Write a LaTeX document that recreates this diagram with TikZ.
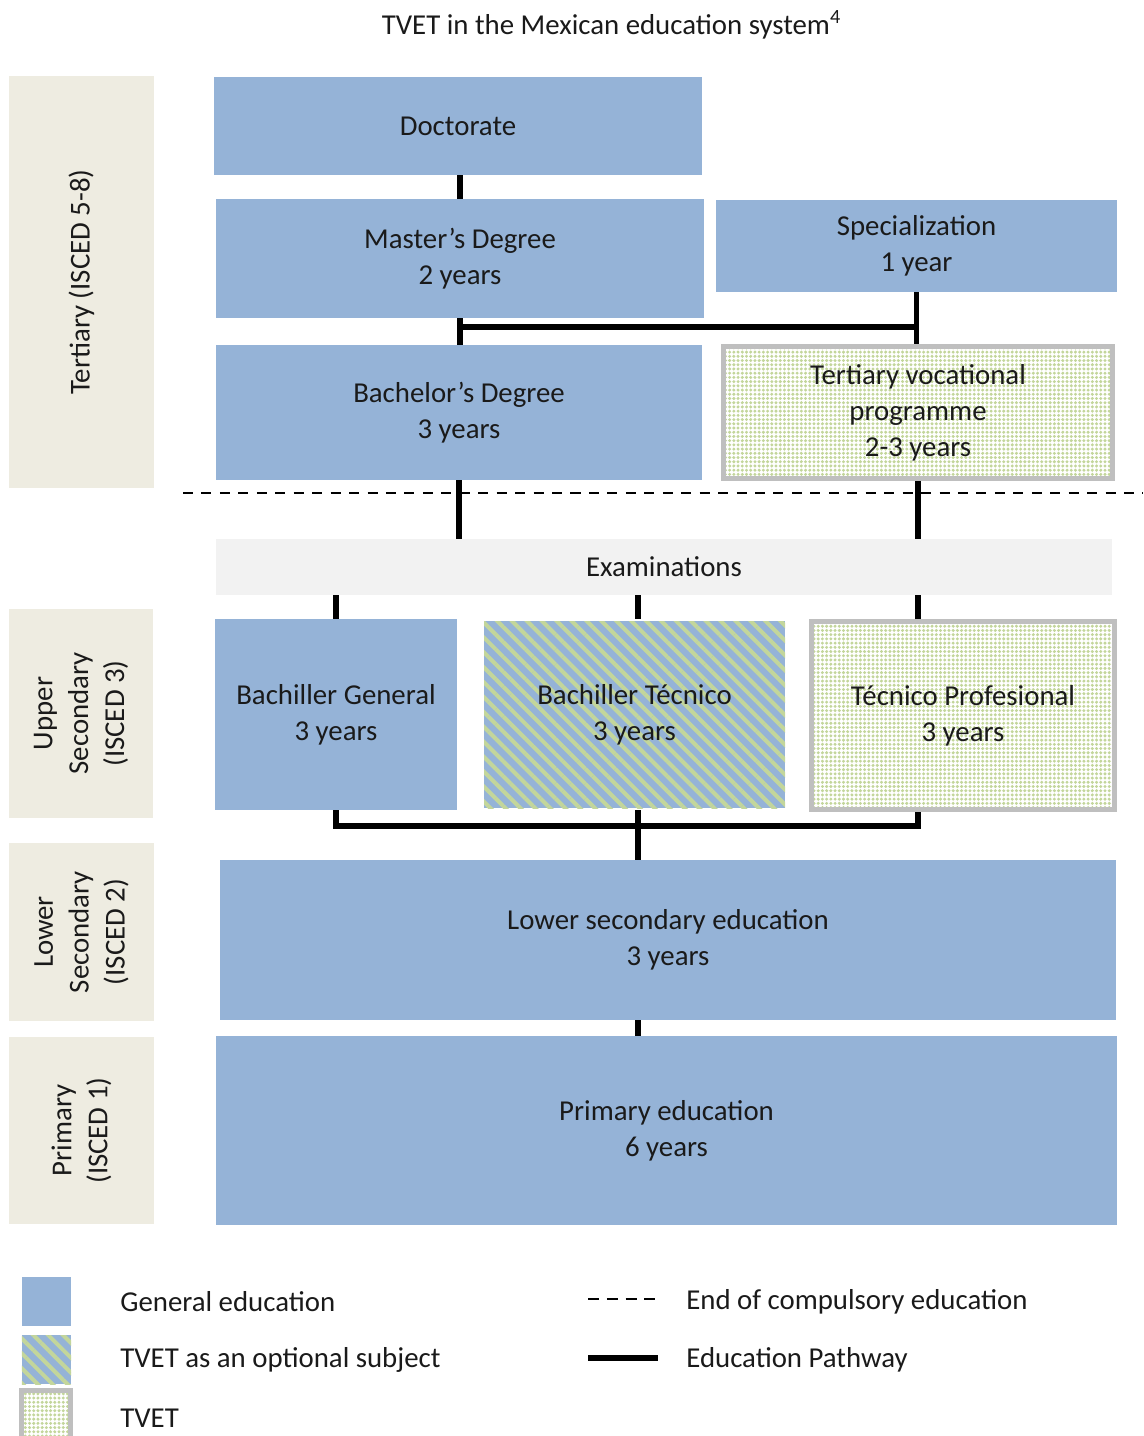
\documentclass[tikz,border=0pt]{standalone}
\usepackage{fontspec}
\setmainfont{Carlito}
\usetikzlibrary{patterns.meta}
\definecolor{genblue}{HTML}{95B3D7}
\definecolor{tvgreen}{HTML}{C3D69B}
\definecolor{levelbeige}{HTML}{EEECE1}
\definecolor{examgray}{HTML}{F2F2F2}
\definecolor{tvetgray}{HTML}{BFBFBF}
\definecolor{txtgray}{HTML}{1A1A1A}

\begin{document}
\begin{tikzpicture}[
    every node/.style={font=\fontsize{16.4}{20.4}\selectfont, text=txtgray, inner sep=0pt, align=center},
    genbox/.style={fill=genblue},
    optbox/.style={preaction={fill=genblue}, pattern={Lines[angle=-45,distance=6pt,line width=2.3pt]}, pattern color=tvgreen},
    tvetbox/.style={draw=tvetgray, line width=2.8pt, preaction={fill=white}, pattern={Dots[distance=2.4pt,radius=0.95pt]}, pattern color=tvgreen},
    levelbox/.style={fill=levelbeige, rotate=90},
    pathway/.style={line width=3pt, black},
    compulsory/.style={line width=1.5pt, black, dash pattern=on 5.7pt off 4.8pt}
  ]
  \useasboundingbox (0,0) rectangle (22.86,-28.72);

  \node (title) at (12.23,-0.50) {TVET in the Mexican education system\textsuperscript{4}};

  % levels
  \node (tert) [levelbox, minimum width=8.24cm, minimum height=2.90cm] at (1.63,-5.64) {Tertiary (ISCED 5-8)};
  \node (usec) [levelbox, minimum width=4.18cm, minimum height=2.88cm] at (1.62,-14.27) {Upper\\Secondary\\(ISCED 3)};
  \node (lsecl) [levelbox, minimum width=3.56cm, minimum height=2.90cm] at (1.63,-18.64) {Lower\\Secondary\\(ISCED 2)};
  \node (priml) [levelbox, minimum width=3.74cm, minimum height=2.90cm] at (1.63,-22.61) {Primary\\(ISCED 1)};

  % tertiary
  \node (doc) [genbox, minimum width=9.76cm, minimum height=1.96cm] at (9.16,-2.52) {Doctorate};
  \node (mast) [genbox, minimum width=9.76cm, minimum height=2.38cm] at (9.20,-5.17) {Master’s Degree\\2 years};
  \node (spec) [genbox, minimum width=8.02cm, minimum height=1.84cm] at (18.33,-4.92) {Specialization\\1 year};
  \node (bach) [genbox, minimum width=9.72cm, minimum height=2.70cm] at (9.18,-8.25) {Bachelor’s Degree\\3 years};
  \node (tvoc) [tvetbox, minimum width=7.78cm, minimum height=2.64cm] at (18.36,-8.25) {Tertiary vocational\\programme\\2-3 years};

  \draw[compulsory] (3.66,-9.86) -- (22.86,-9.86);

  \node (exam) [fill=examgray, minimum width=17.92cm, minimum height=1.12cm] at (13.28,-11.34) {Examinations};

  % upper secondary
  \node (bgen) [genbox, minimum width=4.84cm, minimum height=3.82cm] at (6.72,-14.29) {Bachiller General\\3 years};
  \node (btec) [optbox, minimum width=6.02cm, minimum height=3.74cm] at (12.69,-14.29) {Bachiller Técnico\\3 years};
  \node (tpro) [tvetbox, minimum width=6.06cm, minimum height=3.76cm] at (19.26,-14.31) {Técnico Profesional\\3 years};

  \node (lsec) [genbox, minimum width=17.92cm, minimum height=3.20cm] at (13.36,-18.80) {Lower secondary education\\3 years};
  \node (prim) [genbox, minimum width=18.02cm, minimum height=3.78cm] at (13.33,-22.61) {Primary education\\6 years};

  % pathways
  \coordinate (tjoin) at (9.22,-6.54);
  \coordinate (ujoin) at (12.76,-16.52);
  \draw[pathway] (mast.north) -- (mast.north |- doc.south);
  \draw[pathway] (mast.south) -- (mast.south |- bach.north);
  \draw[pathway] (spec.south) -- (spec.south |- tvoc.north);
  \draw[pathway] (tjoin -| mast.south) -- (tjoin -| spec.south);
  \draw[pathway] (bach.south) -- (bach.south |- exam.north);
  \draw[pathway] (tvoc.south) -- (tvoc.south |- exam.north);
  \draw[pathway] (bgen.north) -- (bgen.north |- exam.south);
  \draw[pathway] (ujoin |- btec.north) -- (ujoin |- exam.south);
  \draw[pathway] (tvoc.south |- tpro.north) -- (tvoc.south |- exam.south);
  \draw[pathway] (bgen.south) |- (ujoin) -| (tvoc.south |- tpro.south);
  \draw[pathway] (ujoin |- btec.south) -- (ujoin |- lsec.north);
  \draw[pathway] (ujoin |- lsec.south) -- (ujoin |- prim.north);

  % legend
  \node (lgen) [genbox, minimum size=0.98cm] at (0.93,-26.03) {};
  \node (lopt) [optbox, minimum size=0.98cm] at (0.93,-27.19) {};
  \node (ltvet) [tvetbox, minimum size=0.98cm] at (0.92,-28.30) {};
  \node (tgen) [anchor=west] at (2.40,-26.04) {General education};
  \node (topt) [anchor=west] at (2.40,-27.20) {TVET as an optional subject};
  \node (ttvet) [anchor=west] at (2.40,-28.36) {TVET};

  \coordinate (ldash1) at (11.76,-25.98);
  \coordinate (ldash2) at (13.14,-25.98);
  \coordinate (lpath1) at (11.76,-27.16);
  \coordinate (lpath2) at (13.16,-27.16);
  \draw[compulsory, dash pattern=on 6.2pt off 4.5pt] (ldash1) -- (ldash2);
  \draw[pathway] (lpath1) -- (lpath2);
  \node (tcomp) [anchor=west] at (13.72,-26.04) {End of compulsory education};
  \node (tpath) [anchor=west] at (13.72,-27.20) {Education Pathway};
\end{tikzpicture}
\end{document}
